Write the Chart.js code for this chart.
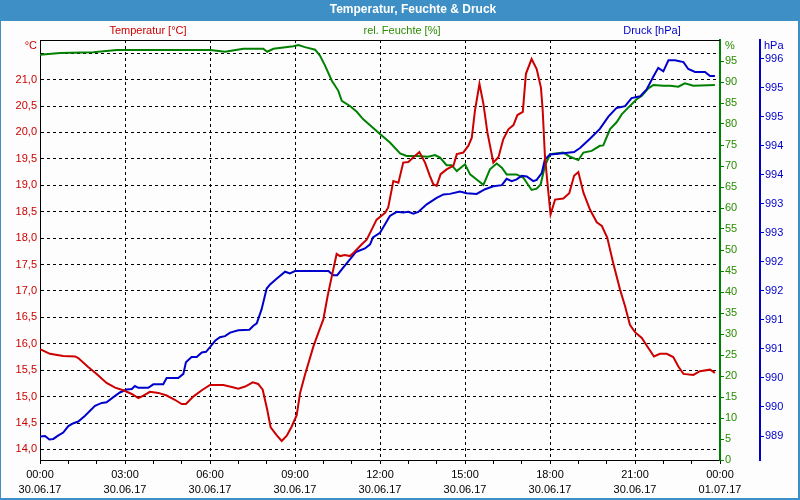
<!DOCTYPE html>
<html>
<head>
<meta charset="utf-8">
<script src="https://cdn.jsdelivr.net/npm/chart.js@4"></script>
<style>
  body { margin: 0; background: #fff; }
  #wrap { width: 800px; height: 500px; position: relative; }
</style>
</head>
<body>
<div id="wrap"><canvas id="myChart"></canvas></div>
<script>
// time of day in hours (0 = 00:00 30.06.17, 24 = 00:00 01.07.17)
var tickTimes = ['00:00', '03:00', '06:00', '09:00', '12:00', '15:00', '18:00', '21:00', '00:00'];
var tickDates = ['30.06.17', '30.06.17', '30.06.17', '30.06.17', '30.06.17', '30.06.17', '30.06.17', '30.06.17', '01.07.17'];

var tempHours = [0, 0.35, 0.82, 1.24, 1.35, 1.7, 2.0, 2.35, 2.65, 2.94, 3.24, 3.47, 3.65, 3.88, 4.18, 4.47, 4.76, 5.0, 5.15, 5.41, 5.71, 6.0, 6.47, 6.77, 7.0, 7.24, 7.51, 7.7, 7.86, 8.02, 8.14, 8.35, 8.53, 8.71, 8.88, 9.06, 9.18, 9.35, 9.65, 9.82, 10.0, 10.15, 10.3, 10.47, 10.59, 10.76, 10.94, 11.08, 11.35, 11.53, 11.65, 11.88, 12.18, 12.29, 12.47, 12.65, 12.82, 13.0, 13.18, 13.39, 13.59, 13.76, 13.88, 14.0, 14.14, 14.35, 14.59, 14.71, 14.94, 15.12, 15.24, 15.35, 15.51, 15.65, 15.79, 16.0, 16.18, 16.35, 16.53, 16.71, 16.85, 17.04, 17.15, 17.35, 17.53, 17.68, 17.74, 17.82, 17.92, 18.02, 18.18, 18.47, 18.68, 18.85, 19.0, 19.18, 19.41, 19.65, 19.83, 20.02, 20.23, 20.47, 20.65, 20.82, 21.0, 21.24, 21.47, 21.67, 21.88, 22.12, 22.35, 22.53, 22.71, 23.06, 23.29, 23.65, 23.82];
var tempValues = [15.90, 15.81, 15.77, 15.76, 15.73, 15.56, 15.43, 15.26, 15.17, 15.12, 15.05, 14.97, 15.02, 15.09, 15.07, 15.02, 14.94, 14.86, 14.86, 15.00, 15.12, 15.22, 15.22, 15.18, 15.15, 15.19, 15.27, 15.24, 15.13, 14.75, 14.42, 14.27, 14.16, 14.26, 14.43, 14.65, 15.07, 15.41, 15.95, 16.20, 16.46, 16.90, 17.28, 17.70, 17.66, 17.68, 17.66, 17.73, 17.88, 17.97, 18.10, 18.35, 18.48, 18.58, 19.08, 19.05, 19.43, 19.44, 19.53, 19.63, 19.43, 19.18, 19.02, 18.99, 19.21, 19.30, 19.37, 19.59, 19.62, 19.75, 19.90, 20.41, 20.92, 20.54, 20.00, 19.43, 19.53, 19.87, 20.06, 20.14, 20.33, 20.39, 21.11, 21.39, 21.20, 20.85, 20.44, 19.56, 18.99, 18.45, 18.73, 18.75, 18.85, 19.18, 19.25, 18.86, 18.54, 18.30, 18.23, 18.01, 17.53, 17.03, 16.71, 16.36, 16.22, 16.11, 15.92, 15.76, 15.81, 15.81, 15.75, 15.57, 15.43, 15.41, 15.48, 15.51, 15.45];

var humHours = [0, 0.71, 1.88, 2.71, 6.0, 6.53, 7.18, 7.88, 8.02, 8.24, 8.94, 9.12, 9.35, 9.71, 9.88, 10.06, 10.3, 10.53, 10.65, 10.94, 11.18, 11.41, 11.65, 12.0, 12.35, 12.71, 12.94, 13.3, 13.7, 13.94, 14.12, 14.35, 14.53, 14.71, 15.0, 15.18, 15.41, 15.65, 15.88, 16.12, 16.3, 16.47, 16.82, 17.06, 17.35, 17.53, 17.67, 17.82, 18.0, 18.47, 18.71, 19.0, 19.18, 19.47, 19.76, 19.88, 20.12, 20.35, 20.53, 20.76, 21.06, 21.24, 21.47, 21.65, 22.0, 22.24, 22.53, 22.76, 23.06, 23.82];
var humValues = [96.5, 96.9, 97.1, 97.6, 97.6, 97.2, 97.9, 97.9, 97.2, 97.9, 98.5, 98.8, 98.3, 97.7, 96.3, 93.9, 90.3, 87.9, 85.5, 84.3, 82.9, 81.1, 79.7, 77.6, 75.6, 73.0, 72.4, 72.4, 72.2, 72.6, 72.0, 70.2, 70.2, 68.8, 70.4, 68.0, 66.8, 65.5, 69.2, 70.6, 69.6, 68.0, 68.0, 67.2, 64.3, 64.6, 65.6, 70.0, 72.8, 73.2, 72.2, 71.4, 73.2, 73.6, 74.8, 74.9, 78.8, 80.4, 82.3, 83.9, 85.9, 86.7, 88.5, 89.3, 89.1, 89.1, 88.9, 89.7, 89.1, 89.3];

var presHours = [0, 0.18, 0.33, 0.47, 0.65, 0.82, 1.0, 1.18, 1.35, 1.59, 1.94, 2.18, 2.35, 2.59, 2.82, 3.06, 3.24, 3.35, 3.47, 3.82, 4.0, 4.35, 4.47, 4.88, 5.06, 5.15, 5.35, 5.53, 5.71, 5.86, 6.0, 6.18, 6.35, 6.53, 6.71, 7.0, 7.39, 7.53, 7.65, 7.82, 8.0, 8.12, 8.35, 8.65, 8.82, 9.0, 10.18, 10.35, 10.49, 10.7, 10.94, 11.15, 11.47, 11.65, 11.75, 12.0, 12.35, 12.59, 12.82, 13.0, 13.18, 13.35, 13.65, 14.0, 14.24, 14.47, 14.82, 15.06, 15.41, 15.71, 16.0, 16.3, 16.47, 16.65, 16.82, 17.0, 17.18, 17.41, 17.53, 17.71, 17.82, 18.0, 18.47, 18.85, 19.06, 19.41, 19.76, 20.06, 20.35, 20.65, 20.88, 21.18, 21.41, 21.65, 21.82, 22.0, 22.18, 22.41, 22.71, 22.88, 23.12, 23.47, 23.65, 23.82];
var presValues = [988.99, 989.00, 988.94, 988.95, 989.01, 989.06, 989.17, 989.22, 989.25, 989.35, 989.52, 989.57, 989.58, 989.67, 989.75, 989.80, 989.81, 989.86, 989.83, 989.83, 989.89, 989.89, 990.00, 990.00, 990.07, 990.27, 990.36, 990.36, 990.44, 990.45, 990.53, 990.64, 990.70, 990.72, 990.78, 990.82, 990.83, 990.90, 990.94, 991.18, 991.54, 991.61, 991.71, 991.83, 991.80, 991.84, 991.84, 991.77, 991.77, 991.90, 992.04, 992.17, 992.23, 992.30, 992.42, 992.50, 992.79, 992.86, 992.85, 992.86, 992.83, 992.86, 992.99, 993.10, 993.16, 993.17, 993.21, 993.18, 993.17, 993.25, 993.30, 993.32, 993.43, 993.39, 993.42, 993.48, 993.47, 993.39, 993.41, 993.53, 993.76, 993.85, 993.87, 993.89, 993.96, 994.12, 994.29, 994.50, 994.65, 994.68, 994.82, 994.85, 994.97, 995.19, 995.34, 995.28, 995.47, 995.47, 995.44, 995.32, 995.27, 995.27, 995.20, 995.20];

function toPoints(hours, values) {
    return hours.map(function(h, i) { return {x: h, y: values[i]}; });
}

var RED = '#cc0000';
var GREEN = '#008000';
var GREEN_TXT = '#2a8c00';
var BLUE = '#0000cc';

Chart.defaults.font.family = "'Liberation Sans', Arial, sans-serif";
Chart.defaults.font.size = 11;

// frame, title bar and the little captions round the plot
var framePlugin = {
    id: 'frame',
    beforeDraw: function(chart) {
        var ctx = chart.ctx;
        ctx.save();
        ctx.fillStyle = '#fdfdfd';
        ctx.fillRect(0, 0, 800, 500);
        ctx.fillStyle = '#3d8fc6';
        ctx.fillRect(0, 0, 800, 21);
        ctx.fillRect(0, 0, 1, 500);
        ctx.fillRect(798, 0, 2, 500);
        ctx.fillRect(0, 498, 800, 2);
        ctx.restore();
    },
    afterDraw: function(chart) {
        var ctx = chart.ctx;
        var a = chart.chartArea;
        ctx.save();
        ctx.strokeStyle = '#000';
        ctx.lineWidth = 1;
        ctx.beginPath();
        ctx.moveTo(a.left, a.top + 0.5);
        ctx.lineTo(a.right, a.top + 0.5);
        ctx.stroke();

        ctx.textBaseline = 'middle';
        ctx.font = "bold 12px 'Liberation Sans', Arial, sans-serif";
        ctx.fillStyle = '#fff';
        ctx.textAlign = 'center';
        ctx.fillText('Temperatur, Feuchte & Druck', 413, 10);

        ctx.font = "11px 'Liberation Sans', Arial, sans-serif";
        ctx.fillStyle = RED;
        ctx.fillText('Temperatur [°C]', 148, 31);
        ctx.fillStyle = GREEN_TXT;
        ctx.fillText('rel. Feuchte [%]', 402, 31);
        ctx.fillStyle = BLUE;
        ctx.fillText('Druck [hPa]', 652, 31);

        ctx.textAlign = 'right';
        ctx.fillStyle = RED;
        ctx.fillText('°C', 37, 46);
        ctx.textAlign = 'left';
        ctx.fillStyle = GREEN_TXT;
        ctx.fillText('%', 725, 46);
        ctx.fillStyle = BLUE;
        ctx.fillText('hPa', 764, 46);
        ctx.restore();
    }
};

var ctx = document.getElementById('myChart').getContext('2d');
var chart = new Chart(ctx, {
    type: 'line',
    data: {
        datasets: [{
            label: 'Temperatur [°C]',
            data: toPoints(tempHours, tempValues),
            borderColor: RED,
            borderWidth: 2,
            yAxisID: 'yTemp'
        }, {
            label: 'Druck [hPa]',
            data: toPoints(presHours, presValues),
            borderColor: BLUE,
            borderWidth: 2,
            yAxisID: 'yPres'
        }, {
            label: 'rel. Feuchte [%]',
            data: toPoints(humHours, humValues),
            borderColor: GREEN,
            borderWidth: 2,
            yAxisID: 'yHum'
        }]
    },
    options: {
        responsive: true,
        maintainAspectRatio: false,
        animation: false,
        events: [],
        elements: {
            point: { radius: 0 },
            line: { tension: 0, fill: false }
        },
        layout: { padding: { top: 40, left: 0, right: 0, bottom: 0 } },
        plugins: {
            legend: { display: false },
            title: { display: false },
            tooltip: { enabled: false }
        },
        scales: {
            x: {
                type: 'linear',
                position: 'bottom',
                min: 0,
                max: 24,
                afterFit: function(scale) { scale.height = 40; },
                ticks: {
                    stepSize: 1,
                    autoSkip: false,
                    maxRotation: 0,
                    minRotation: 0,
                    color: '#000',
                    padding: 4,
                    font: { lineHeight: 1.35 },
                    callback: function(v) {
                        if (v % 3 !== 0) return '';
                        return [tickTimes[v / 3], tickDates[v / 3]];
                    }
                },
                grid: {
                    color: function(c) {
                        var v = c.tick ? c.tick.value : 0;
                        return (v % 3 === 0 && v !== 0 && v !== 24) ? '#000' : 'rgba(0,0,0,0)';
                    },
                    tickColor: '#000',
                    tickLength: 4,
                    tickBorderDash: []
                },
                border: { color: '#000', width: 1, dash: [3, 3] }
            },
            yTemp: {
                type: 'linear',
                position: 'left',
                min: 13.8,
                max: 21.75,
                afterFit: function(scale) { scale.width = 40; },
                ticks: {
                    stepSize: 0.5,
                    includeBounds: false,
                    color: RED,
                    padding: 3,
                    callback: function(v) {
                        if (v > 21.25) return '';
                        return v.toFixed(1).replace('.', ',');
                    }
                },
                grid: { color: '#000', drawTicks: false },
                border: { color: '#000', width: 1, dash: [3, 3] }
            },
            yHum: {
                type: 'linear',
                position: 'right',
                weight: 0,
                min: 0,
                max: 100,
                afterFit: function(scale) { scale.width = 40; },
                afterBuildTicks: function(scale) {
                    scale.ticks = scale.ticks.filter(function(t) { return t.value <= 95; });
                },
                ticks: {
                    stepSize: 5,
                    color: GREEN_TXT,
                    padding: 1
                },
                grid: { drawOnChartArea: false, tickColor: GREEN, tickLength: 4 },
                border: { color: GREEN, width: 2 }
            },
            yPres: {
                type: 'linear',
                position: 'right',
                weight: 1,
                min: 988.587,
                max: 995.82,
                afterFit: function(scale) { scale.width = 40; },
                ticks: {
                    stepSize: 0.5,
                    includeBounds: false,
                    color: BLUE,
                    padding: 1,
                    callback: function(v) { return Math.round(v).toString(); }
                },
                grid: { drawOnChartArea: false, tickColor: BLUE, tickLength: 4 },
                border: { color: BLUE, width: 2 }
            }
        }
    },
    plugins: [framePlugin]
});
</script>
</body>
</html>
